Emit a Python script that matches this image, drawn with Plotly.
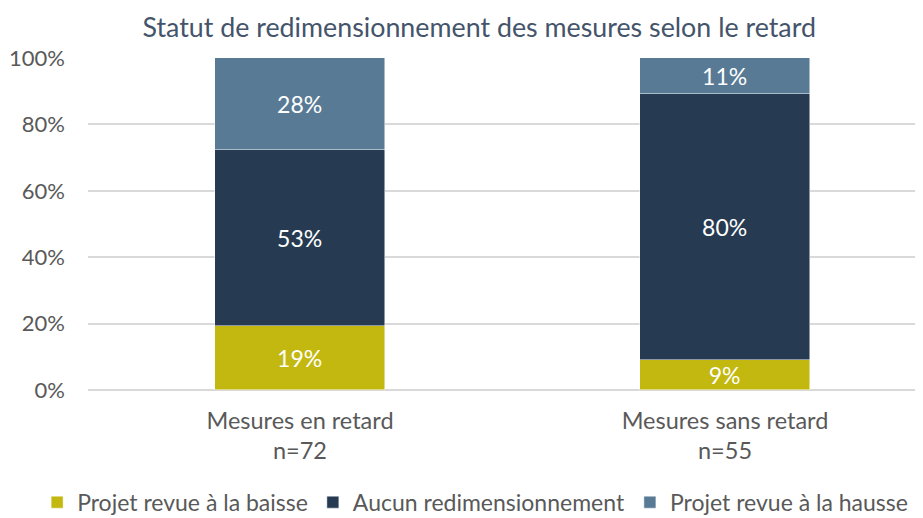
import plotly.graph_objects as go

categories = ["Mesures en retard<br>n=72", "Mesures sans retard<br>n=55"]
series_names = ["Projet revue à la baisse", "Aucun redimensionnement", "Projet revue à la hausse"]
baisse = [19.4, 9.1]
aucun = [52.8, 80.0]
hausse = [27.8, 10.9]
colors = ["#C2B80F", "#263B52", "#587A94"]
tick_vals = [0, 20, 40, 60, 80, 100]
tick_text = ["0%", "20%", "40%", "60%", "80%", "100%"]

FONT = "Lato"
fig = go.Figure()
for name, vals, col in zip(series_names, [baisse, aucun, hausse], colors):
    fig.add_trace(go.Bar(
        x=categories, y=vals, name=name,
        marker=dict(color=col, line=dict(color="rgba(255,255,255,0.6)", width=0.8)),
        width=0.398,
        texttemplate="%{y:.0f}%", textposition="inside", insidetextanchor="middle",
        constraintext="none",
        textfont=dict(color="white", size=23, family=FONT),
        hoverinfo="skip",
    ))

fig.update_layout(
    barmode="stack",
    width=915, height=510,
    margin=dict(l=80, r=1, t=50, b=128, autoexpand=False),
    paper_bgcolor="white", plot_bgcolor="white",
    font=dict(family=FONT, color="#595959", size=22),
    title=dict(text="Statut de redimensionnement des mesures selon le retard",
               x=0.515, xanchor="center", y=0.961, yanchor="middle",
               font=dict(size=26.8, color="#44546A", family=FONT)),
    showlegend=True,
    legend=dict(orientation="h", x=-0.061, xanchor="left",
                y=-0.338, yanchor="middle",
                font=dict(size=23, color="#595959", family=FONT),
                traceorder="normal", itemwidth=30),
    bargap=0,
)
fig.update_xaxes(range=[-0.4988, 1.4635], showline=False, ticks="",
                 ticklabelstandoff=14,
                 tickfont=dict(size=23.5, color="#595959"))
fig.update_yaxes(range=[0, 100], tickvals=tick_vals, ticktext=tick_text,
                 showgrid=True, gridcolor="#D9D9D9", gridwidth=1.5,
                 zeroline=True, zerolinecolor="#D9D9D9", zerolinewidth=1.5,
                 ticks="", ticklabelstandoff=22,
                 tickfont=dict(size=22, color="#595959"))

fig.write_html("out.html")
